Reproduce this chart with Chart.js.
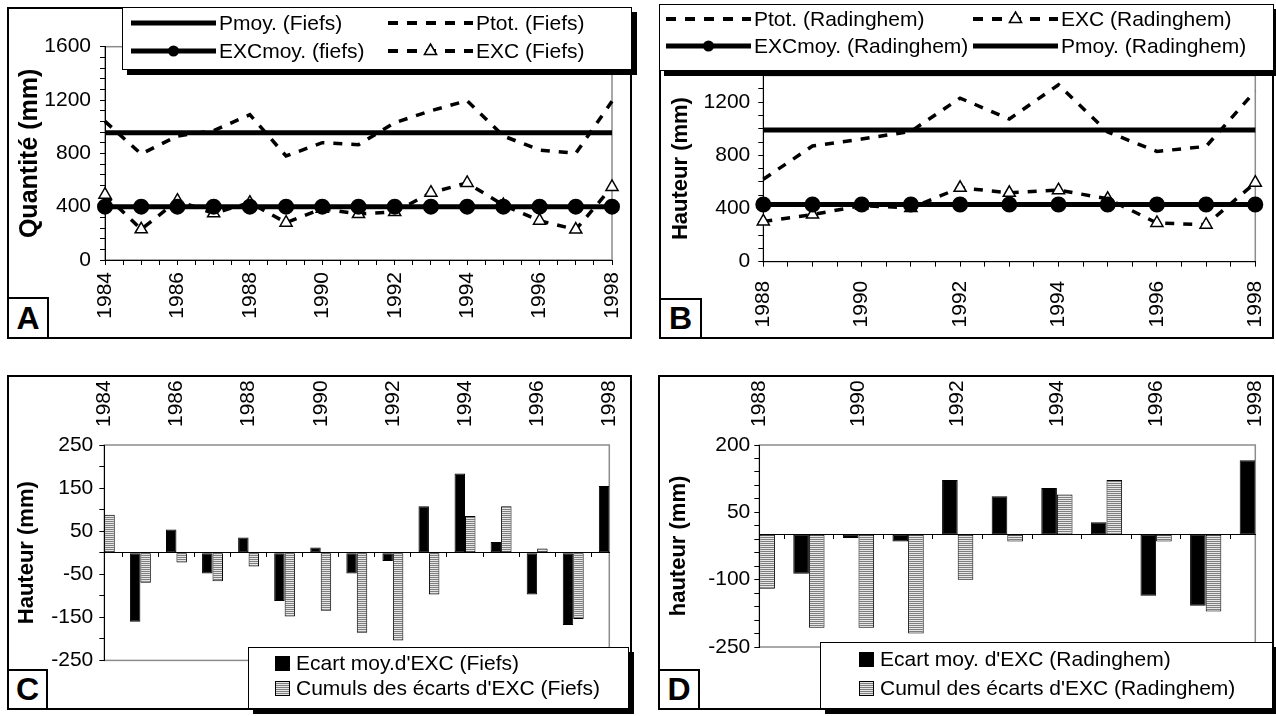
<!DOCTYPE html>
<html>
<head>
<meta charset="utf-8">
<script src="https://cdn.jsdelivr.net/npm/chart.js@4.4.1/dist/chart.umd.min.js"></script>
<style>
  body { margin: 0; background: #fff; font-family: "Liberation Sans", Arial, sans-serif; }
  #page { position: relative; width: 1276px; height: 716px; overflow: hidden; }
  .frame { position: absolute; border: 2px solid #000; box-sizing: border-box; }
  canvas { position: absolute; z-index: 2; }
  .legend { position: absolute; background: #fff; border: 1.5px solid #000; box-sizing: border-box; box-shadow: 5px 5px 0 #000; z-index: 5; }
  .item { position: absolute; display: flex; align-items: center; height: 24px; font-size: 21px; white-space: nowrap; color: #000; }
  .item svg { margin-right: 3px; }
  .sw { width: 13px; height: 13px; border: 1px solid #000; margin-right: 6px; }
  .sw.black { background: #000; }
  .sw.stripe { background: repeating-linear-gradient(#e6e6e6 0 1px, #7f7f7f 1px 2px); }
  .tag { position: absolute; border: 2px solid #000; box-sizing: border-box; background: #fff; font-weight: bold; font-size: 32px; display: flex; align-items: center; justify-content: center; z-index: 6; }
</style>
</head>
<body>
<div id="page">
  <!-- panel frames -->
  <div class="frame" style="left:7px;top:7px;width:625px;height:332px"></div>
  <div class="frame" style="left:659px;top:4px;width:615px;height:335px"></div>
  <div class="frame" style="left:7px;top:375px;width:625px;height:335px"></div>
  <div class="frame" style="left:658px;top:375px;width:616px;height:335px"></div>

  <canvas id="chartA" width="623" height="330" style="left:8px;top:8px"></canvas>
  <canvas id="chartB" width="613" height="333" style="left:660px;top:5px"></canvas>
  <canvas id="chartC" width="623" height="333" style="left:8px;top:376px"></canvas>
  <canvas id="chartD" width="614" height="333" style="left:659px;top:376px"></canvas>

  <!-- legend A -->
  <div class="legend" style="left:122px;top:7px;width:510px;height:63px">
    <div class="item" style="left:8px;top:3px">
      <svg width="85" height="24"><line x1="0" y1="12" x2="85" y2="12" stroke="#000" stroke-width="5"/></svg>Pmoy. (Fiefs)</div>
    <div class="item" style="left:265px;top:3px">
      <svg width="85" height="24"><line x1="0" y1="12" x2="85" y2="12" stroke="#000" stroke-width="4" stroke-dasharray="10 9"/></svg>Ptot. (Fiefs)</div>
    <div class="item" style="left:8px;top:31px">
      <svg width="85" height="24"><line x1="0" y1="12" x2="85" y2="12" stroke="#000" stroke-width="5"/><circle cx="42.5" cy="12" r="5.5" fill="#000"/></svg>EXCmoy. (fiefs)</div>
    <div class="item" style="left:265px;top:31px">
      <svg width="85" height="24"><line x1="0" y1="12" x2="85" y2="12" stroke="#000" stroke-width="4" stroke-dasharray="10 9"/><polygon points="42.5,5 48.6,15.5 36.4,15.5" fill="#fff" stroke="#000" stroke-width="1.5"/></svg>EXC (Fiefs)</div>
  </div>

  <!-- legend B -->
  <div class="legend" style="left:659px;top:4px;width:615px;height:67px">
    <div class="item" style="left:6px;top:2px">
      <svg width="85" height="24"><line x1="0" y1="12" x2="85" y2="12" stroke="#000" stroke-width="4" stroke-dasharray="10 9"/></svg>Ptot. (Radinghem)</div>
    <div class="item" style="left:313px;top:2px">
      <svg width="85" height="24"><line x1="0" y1="12" x2="85" y2="12" stroke="#000" stroke-width="4" stroke-dasharray="10 9"/><polygon points="42.5,5 48.6,15.5 36.4,15.5" fill="#fff" stroke="#000" stroke-width="1.5"/></svg>EXC (Radinghem)</div>
    <div class="item" style="left:6px;top:29px">
      <svg width="85" height="24"><line x1="0" y1="12" x2="85" y2="12" stroke="#000" stroke-width="5"/><circle cx="42.5" cy="12" r="5.5" fill="#000"/></svg>EXCmoy. (Radinghem)</div>
    <div class="item" style="left:313px;top:29px">
      <svg width="85" height="24"><line x1="0" y1="12" x2="85" y2="12" stroke="#000" stroke-width="5"/></svg>Pmoy. (Radinghem)</div>
  </div>

  <!-- legend C -->
  <div class="legend" style="left:248px;top:647px;width:381px;height:62px">
    <div class="item" style="left:26px;top:3px"><div class="sw black"></div>Ecart moy.d'EXC (Fiefs)</div>
    <div class="item" style="left:26px;top:28px"><div class="sw stripe"></div>Cumuls des écarts d'EXC (Fiefs)</div>
  </div>

  <!-- legend D -->
  <div class="legend" style="left:820px;top:642px;width:453px;height:67px">
    <div class="item" style="left:38px;top:4px"><div class="sw black"></div>Ecart moy. d'EXC (Radinghem)</div>
    <div class="item" style="left:38px;top:33px"><div class="sw stripe"></div>Cumul des écarts d'EXC (Radinghem)</div>
  </div>

  <div class="tag" style="left:7px;top:297px;width:42px;height:42px">A</div>
  <div class="tag" style="left:659px;top:298px;width:43px;height:41px">B</div>
  <div class="tag" style="left:7px;top:669px;width:41px;height:41px">C</div>
  <div class="tag" style="left:658px;top:669px;width:42px;height:41px">D</div>
</div>

<script>
// Fiefs station, 1984-1998
const yearsFiefs = [1984, 1985, 1986, 1987, 1988, 1989, 1990, 1991, 1992, 1993, 1994, 1995, 1996, 1997, 1998];
const ptotFiefs = [1040, 795, 930, 970, 1090, 780, 880, 865, 1030, 1120, 1195, 930, 825, 800, 1190];
const excFiefs = [490, 230, 445, 350, 430, 280, 385, 345, 360, 505, 578, 412, 295, 228, 548];
const pmoyFiefs = [955, 955, 955, 955, 955, 955, 955, 955, 955, 955, 955, 955, 955, 955, 955];
const excMoyFiefs = [400, 400, 400, 400, 400, 400, 400, 400, 400, 400, 400, 400, 400, 400, 400];
const ecartFiefs = [88, -160, 54, -48, 35, -112, 12, -48, -19, 108, 184, 25, -97, -168, 155];
const cumulFiefs = [88, -70, -23, -66, -32, -148, -135, -186, -204, -97, 85, 108, 10, -154, 0];

// Radinghem station, 1988-1998
const yearsRad = [1988, 1989, 1990, 1991, 1992, 1993, 1994, 1995, 1996, 1997, 1998];
const ptotRad = [620, 870, 922, 980, 1230, 1073, 1330, 975, 829, 867, 1283];
const excRad = [303, 354, 422, 404, 556, 518, 538, 473, 291, 278, 594];
const pmoyRad = [990, 990, 990, 990, 990, 990, 990, 990, 990, 990, 990];
const excMoyRad = [430, 430, 430, 430, 430, 430, 430, 430, 430, 430, 430];
const ecartRad = [-120, -87, -7, -15, 122, 86, 104, 28, -136, -158, 166];
const cumulRad = [-120, -207, -207, -220, -100, -15, 90, 122, -15, -171, 0];

// axis ranges
const rangeA = { min: 0, max: 1600, minor: 80, major: 400 };
const rangeB = { min: 0, max: 1400, minor: 100, major: 400 };
const rangeC = { min: -250, max: 250, minor: 50, major: 100 };
const rangeD = { min: -250, max: 200, minor: 30, major: 150 };

Chart.defaults.font.family = '"Liberation Sans", Arial, sans-serif';
Chart.defaults.font.size = 21;
Chart.defaults.color = '#000';

function pts(xs, ys) {
  return xs.map((x, i) => ({ x: x, y: ys[i] }));
}

// grey frame round the plot area, axes draw over it
const plotFrame = {
  id: 'plotFrame',
  beforeDraw(chart) {
    const a = chart.chartArea;
    const ctx = chart.ctx;
    ctx.save();
    ctx.strokeStyle = '#8c8c8c';
    ctx.lineWidth = 1.5;
    ctx.strokeRect(a.left, a.top, a.right - a.left, a.bottom - a.top);
    ctx.restore();
  }
};

function layoutPad(g) {
  if (g.xTop) return { left: 0, top: 0, right: g.w - g.r, bottom: g.h - g.b };
  return { left: 0, top: g.t, right: g.w - g.r, bottom: 0 };
}

function yAxis(g, range, title) {
  return {
    type: 'linear',
    min: range.min,
    max: range.max,
    afterFit: s => { s.width = g.l; },
    border: { display: true, color: '#000', width: 1 },
    grid: { drawOnChartArea: false, drawTicks: true, tickLength: 5, color: '#000' },
    ticks: {
      stepSize: range.minor,
      autoSkip: false,
      padding: g.yPad,
      callback: v => ((v - range.min) % range.major === 0 ? String(v) : '')
    },
    title: { display: true, text: title, font: { size: g.ts, weight: 'bold' }, padding: { top: g.tp, bottom: 0 } }
  };
}

function yearLabel(v) {
  return Number.isInteger(v) && v % 2 === 0 ? String(v) : '';
}

const baseOpts = {
  responsive: false,
  devicePixelRatio: 1,
  animation: false,
  events: [],
  plugins: { legend: { display: false }, tooltip: { enabled: false } }
};

function lineChart(id, g, years, ptot, exc, pmoy, excMoy, range, title) {
  const xh = g.h - g.b;
  new Chart(document.getElementById(id), {
    type: 'line',
    data: {
      datasets: [
        { label: 'EXCmoy.', data: pts(years, excMoy), borderColor: '#000', borderWidth: 5,
          pointRadius: 5.5, pointBackgroundColor: '#000', pointBorderColor: '#000', order: 1, clip: false },
        { label: 'Pmoy.', data: pts(years, pmoy), borderColor: '#000', borderWidth: 5,
          pointRadius: 0, order: 2, clip: false },
        { label: 'EXC', data: pts(years, exc), borderColor: '#000', borderWidth: 3.5, borderDash: [9, 9],
          pointStyle: 'triangle', pointRadius: 7, pointBackgroundColor: '#fff', pointBorderColor: '#000',
          pointBorderWidth: 1.5, order: 3, clip: false },
        { label: 'Ptot.', data: pts(years, ptot), borderColor: '#000', borderWidth: 3.5, borderDash: [9, 9],
          pointRadius: 0, order: 4, clip: false }
      ]
    },
    options: Object.assign({}, baseOpts, {
      layout: { padding: layoutPad(g) },
      scales: {
        x: {
          type: 'linear',
          min: years[0],
          max: years[years.length - 1],
          afterFit: s => { s.height = xh; s.paddingLeft = 0; s.paddingRight = 0; },
          border: { display: true, color: '#000', width: 1 },
          grid: { drawOnChartArea: false, drawTicks: true, tickLength: 5, color: '#000' },
          ticks: { stepSize: 0.5, autoSkip: false, minRotation: 90, maxRotation: 90, padding: g.xPad, callback: yearLabel }
        },
        y: yAxis(g, range, title)
      }
    }),
    plugins: [plotFrame]
  });
}

function stripePattern() {
  const c = document.createElement('canvas');
  c.width = 4;
  c.height = 2;
  const cx = c.getContext('2d');
  cx.fillStyle = '#e6e6e6';
  cx.fillRect(0, 0, 4, 1);
  cx.fillStyle = '#7f7f7f';
  cx.fillRect(0, 1, 4, 1);
  return cx.createPattern(c, 'repeat');
}

function barChart(id, g, years, ecart, cumul, range, title, catPct) {
  new Chart(document.getElementById(id), {
    type: 'bar',
    data: {
      datasets: [
        { label: 'Ecart', data: pts(years, ecart), backgroundColor: '#000', borderColor: '#000',
          borderWidth: 1, borderSkipped: false, clip: 0 },
        { label: 'Cumul', data: pts(years, cumul), backgroundColor: stripePattern(), borderColor: '#000',
          borderWidth: 1, borderSkipped: false, clip: 0 }
      ]
    },
    options: Object.assign({}, baseOpts, {
      layout: { padding: layoutPad(g) },
      datasets: { bar: { categoryPercentage: catPct, barPercentage: 1 } },
      scales: {
        x: {
          type: 'linear',
          position: 'top',
          offset: false,
          min: years[0],
          max: years[years.length - 1],
          afterFit: s => { s.height = g.t; s.paddingLeft = 0; s.paddingRight = 0; },
          border: { display: false },
          grid: { display: false, drawTicks: false, offset: false },
          ticks: { stepSize: 2, autoSkip: false, minRotation: 90, maxRotation: 90, padding: g.xPad,
            labelOffset: 25.2, callback: yearLabel }
        },
        x0: {
          type: 'linear',
          position: { y: 0 },
          offset: false,
          min: years[0],
          max: years[years.length - 1],
          afterBuildTicks: s => { s.ticks = s.ticks.filter(t => Math.abs(t.value % 1) > 0.01); },
          afterFit: s => { s.paddingLeft = 0; s.paddingRight = 0; },
          border: { display: true, color: '#000', width: 1 },
          grid: { drawOnChartArea: false, drawTicks: true, tickLength: 4, color: '#000', offset: false },
          ticks: { display: false, stepSize: 0.5, autoSkip: false }
        },
        y: yAxis(g, range, title)
      }
    }),
    plugins: [plotFrame]
  });
}

lineChart('chartA', { w: 623, h: 330, l: 97, r: 604, t: 38.7, b: 252, ts: 25, tp: 7, yPad: 9, xPad: 7 },
  yearsFiefs, ptotFiefs, excFiefs, pmoyFiefs, excMoyFiefs, rangeA, 'Quantité (mm)');
lineChart('chartB', { w: 613, h: 333, l: 103.3, r: 595.3, t: 70.5, b: 256.7, ts: 22, tp: 8, yPad: 8, xPad: 14 },
  yearsRad, ptotRad, excRad, pmoyRad, excMoyRad, rangeB, 'Hauteur (mm)');
barChart('chartC', { w: 623, h: 333, l: 96.3, r: 601.3, t: 69, b: 284.4, xTop: true, ts: 22, tp: 6, yPad: 6, xPad: 18 },
  yearsFiefs, ecartFiefs, cumulFiefs, rangeC, 'Hauteur (mm)', 0.58);
barChart('chartD', { w: 614, h: 333, l: 100.3, r: 596.3, t: 69, b: 271, xTop: true, ts: 22, tp: 7, yPad: 4, xPad: 18 },
  yearsRad, ecartRad, cumulRad, rangeD, 'hauteur (mm)', 0.63);
</script>
</body>
</html>
